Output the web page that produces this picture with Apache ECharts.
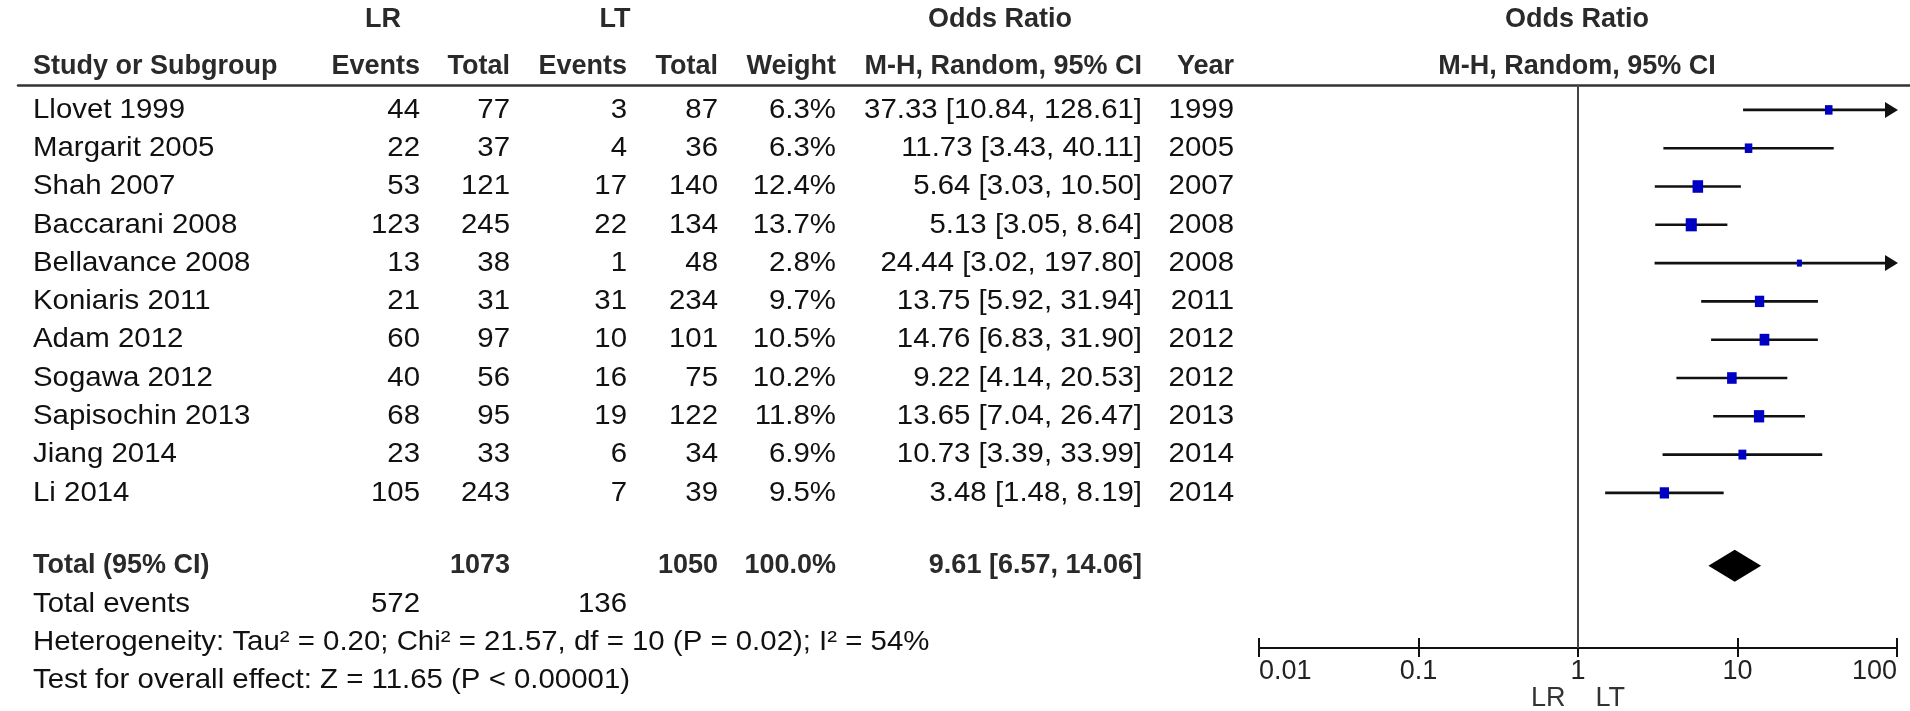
<!DOCTYPE html>
<html>
<head>
<meta charset="utf-8">
<title>Forest plot LR vs LT</title>
<script src="https://cdn.jsdelivr.net/npm/echarts@6/dist/echarts.min.js"></script>
<style>
  html, body { margin: 0; padding: 0; background: #fff; }
  #chart { width: 1910px; height: 711px; }
</style>
</head>
<body>
<div id="chart"></div>
<script>
// data
var studies = ['Llovet 1999', 'Margarit 2005', 'Shah 2007', 'Baccarani 2008', 'Bellavance 2008',
  'Koniaris 2011', 'Adam 2012', 'Sogawa 2012', 'Sapisochin 2013', 'Jiang 2014', 'Li 2014'];
var lrEvents = [44, 22, 53, 123, 13, 21, 60, 40, 68, 23, 105];
var lrTotal = [77, 37, 121, 245, 38, 31, 97, 56, 95, 33, 243];
var ltEvents = [3, 4, 17, 22, 1, 31, 10, 16, 19, 6, 7];
var ltTotal = [87, 36, 140, 134, 48, 234, 101, 75, 122, 34, 39];
var weights = [6.3, 6.3, 12.4, 13.7, 2.8, 9.7, 10.5, 10.2, 11.8, 6.9, 9.5];
var orValues = [37.33, 11.73, 5.64, 5.13, 24.44, 13.75, 14.76, 9.22, 13.65, 10.73, 3.48];
var ciLow = [10.84, 3.43, 3.03, 3.05, 3.02, 5.92, 6.83, 4.14, 7.04, 3.39, 1.48];
var ciHigh = [128.61, 40.11, 10.50, 8.64, 197.80, 31.94, 31.90, 20.53, 26.47, 33.99, 8.19];
var years = [1999, 2005, 2007, 2008, 2008, 2011, 2012, 2012, 2013, 2014, 2014];

var totalLR = 1073, totalLT = 1050, eventsLR = 572, eventsLT = 136;
var pooled = [9.61, 6.57, 14.06];   // OR, low, high
var heterogeneity = 'Heterogeneity: Tau\u00b2 = 0.20; Chi\u00b2 = 21.57, df = 10 (P = 0.02); I\u00b2 = 54%';
var overallTest = 'Test for overall effect: Z = 11.65 (P < 0.00001)';
var axisMax = 100;

// layout (px in the table axis, rows in the shared y axis)
var col = { study: 33, lrE: 420, lrT: 510, ltE: 627, ltT: 718, wt: 836, or: 1142, yr: 1234,
  lrHead: 383, ltHead: 615, orHead: 1000, plot: 1577 };
var rowHead1 = -2.36, rowHead2 = -1.14;
var rowTotal = 11.9, rowEvents = 12.92, rowHet = 13.89, rowTest = 14.88;
var yMin = -0.65, yMax = 14.05;
var FONT = '"Liberation Sans", Arial, sans-serif';

function f2(v) { return v.toFixed(2); }
function ciText(o, l, h) { return f2(o) + ' [' + f2(l) + ', ' + f2(h) + ']'; }

// table cells: [x, row, text, align, bold]
var cells = [];
function cell(x, r, t, a, b) { cells.push([x, r, String(t), a, b ? 1 : 0]); }
cell(col.lrHead, rowHead1, 'LR', 'center', 1);
cell(col.ltHead, rowHead1, 'LT', 'center', 1);
cell(col.orHead, rowHead1, 'Odds Ratio', 'center', 1);
cell(col.plot, rowHead1, 'Odds Ratio', 'center', 1);
cell(col.study, rowHead2, 'Study or Subgroup', 'left', 1);
cell(col.lrE, rowHead2, 'Events', 'right', 1);
cell(col.lrT, rowHead2, 'Total', 'right', 1);
cell(col.ltE, rowHead2, 'Events', 'right', 1);
cell(col.ltT, rowHead2, 'Total', 'right', 1);
cell(col.wt, rowHead2, 'Weight', 'right', 1);
cell(col.or, rowHead2, 'M-H, Random, 95% CI', 'right', 1);
cell(col.yr, rowHead2, 'Year', 'right', 1);
cell(col.plot, rowHead2, 'M-H, Random, 95% CI', 'center', 1);
studies.forEach(function (s, i) {
  cell(col.study, i, s, 'left');
  cell(col.lrE, i, lrEvents[i], 'right');
  cell(col.lrT, i, lrTotal[i], 'right');
  cell(col.ltE, i, ltEvents[i], 'right');
  cell(col.ltT, i, ltTotal[i], 'right');
  cell(col.wt, i, weights[i].toFixed(1) + '%', 'right');
  cell(col.or, i, ciText(orValues[i], ciLow[i], ciHigh[i]), 'right');
  cell(col.yr, i, years[i], 'right');
});
cell(col.study, rowTotal, 'Total (95% CI)', 'left', 1);
cell(col.lrT, rowTotal, totalLR, 'right', 1);
cell(col.ltT, rowTotal, totalLT, 'right', 1);
cell(col.wt, rowTotal, '100.0%', 'right', 1);
cell(col.or, rowTotal, ciText(pooled[0], pooled[1], pooled[2]), 'right', 1);
cell(col.study, rowEvents, 'Total events', 'left');
cell(col.lrE, rowEvents, eventsLR, 'right');
cell(col.ltE, rowEvents, eventsLT, 'right');
cell(col.study, rowHet, heterogeneity, 'left');
cell(col.study, rowTest, overallTest, 'left');

// forest rows: [or, row, low, high, weight]
var forest = studies.map(function (s, i) {
  return [orValues[i], i, ciLow[i], ciHigh[i], weights[i]];
});

var myChart = echarts.init(document.getElementById('chart'));
var option = {
  backgroundColor: '#fff',
  animation: false,
  grid: [
    { left: 1259, right: 13, top: 85, bottom: 63, containLabel: false, outerBoundsMode: 'none' },
    { left: 18, right: 0, top: 85, bottom: 63, containLabel: false, outerBoundsMode: 'none' }
  ],
  xAxis: [
    {
      type: 'log', gridIndex: 0, min: 0.01, max: axisMax, logBase: 10,
      position: 'bottom',
      axisLine: { show: true, onZero: false, lineStyle: { color: '#111', width: 2 } },
      axisTick: { show: true, length: 9, lineStyle: { color: '#111', width: 2 } },
      splitLine: { show: false },
      axisLabel: {
        show: true, margin: 10, color: '#222', fontSize: 27, fontFamily: FONT,
        alignMinLabel: 'left', alignMaxLabel: 'right',
        formatter: function (v) { return String(+v.toPrecision(3)); }
      },
      name: 'LR    LT', nameLocation: 'middle', nameGap: 37, nameMoveOverlap: false,
      nameTextStyle: { color: '#333', fontSize: 27, fontFamily: FONT }
    },
    {
      type: 'log', gridIndex: 0, min: 0.01, max: axisMax, logBase: 10,
      position: 'bottom',
      axisLine: { show: false, onZero: false },
      axisTick: { show: true, inside: true, length: 10, lineStyle: { color: '#111', width: 2 } },
      axisLabel: { show: false },
      splitLine: { show: false }
    },
    {
      type: 'value', gridIndex: 1, min: 18, max: 1910, position: 'top',
      axisLine: { show: true, onZero: false, lineStyle: { color: '#333', width: 2.5 } },
      axisTick: { show: false }, axisLabel: { show: false }, splitLine: { show: false }
    }
  ],
  yAxis: [
    { type: 'value', gridIndex: 0, min: yMin, max: yMax, inverse: true, show: false },
    { type: 'value', gridIndex: 1, min: yMin, max: yMax, inverse: true, show: false }
  ],
  series: [
    {
      type: 'custom', name: 'table', xAxisIndex: 2, yAxisIndex: 1, clip: false,
      data: cells,
      renderItem: function (params, api) {
        var c = cells[params.dataIndex];
        var p = api.coord([c[0], c[1]]);
        return {
          type: 'text', x: p[0], y: p[1], scaleX: c[4] ? 1 : 1.05,
          style: {
            text: c[2], x: 0, y: 0, align: c[3], verticalAlign: 'middle',
            fontSize: c[4] ? 27 : 28, fontFamily: FONT, fontWeight: c[4] ? 'bold' : 'normal',
            fill: c[4] ? '#2a2a2a' : '#111'
          }
        };
      }
    },
    {
      type: 'custom', name: 'studies', xAxisIndex: 0, yAxisIndex: 0, clip: false,
      data: forest,
      renderItem: function (params, api) {
        var o = api.value(0), r = api.value(1), lo = api.value(2), hi = api.value(3), w = api.value(4);
        var pLo = api.coord([lo, r]);
        var pHi = api.coord([Math.min(hi, axisMax), r]);
        var pO = api.coord([o, r]);
        var s = 3.0 * Math.sqrt(w);
        var kids = [
          { type: 'line', shape: { x1: pLo[0], y1: pLo[1], x2: pHi[0] - (hi > axisMax ? 8 : 0), y2: pHi[1] },
            style: { stroke: '#111', lineWidth: 2.6 } },
          { type: 'rect', shape: { x: pO[0] - s / 2, y: pO[1] - s / 2 - 1, width: s, height: s + 2 },
            style: { fill: '#0000c4' } }
        ];
        if (hi > axisMax) {
          kids.push({ type: 'polygon',
            shape: { points: [[pHi[0] + 1, pHi[1]], [pHi[0] - 12, pHi[1] - 8], [pHi[0] - 12, pHi[1] + 8]] },
            style: { fill: '#111' } });
        }
        return { type: 'group', children: kids };
      },
      markLine: {
        silent: true, symbol: 'none', animation: false,
        label: { show: false },
        lineStyle: { color: '#444', width: 2, type: 'solid' },
        data: [{ xAxis: 1 }]
      }
    },
    {
      type: 'custom', name: 'pooled', xAxisIndex: 0, yAxisIndex: 0, clip: false,
      data: [[pooled[0], rowTotal, pooled[1], pooled[2]]],
      renderItem: function (params, api) {
        var r = api.value(1);
        var pO = api.coord([api.value(0), r]);
        var pL = api.coord([api.value(2), r]);
        var pH = api.coord([api.value(3), r]);
        var h = 16;
        return {
          type: 'polygon',
          shape: { points: [[pL[0], pO[1]], [pO[0], pO[1] - h], [pH[0], pO[1]], [pO[0], pO[1] + h]] },
          style: { fill: '#000' }
        };
      }
    }
  ]
};
if (option && typeof option === 'object') {
  myChart.setOption(option, true);
}
</script>
</body>
</html>
